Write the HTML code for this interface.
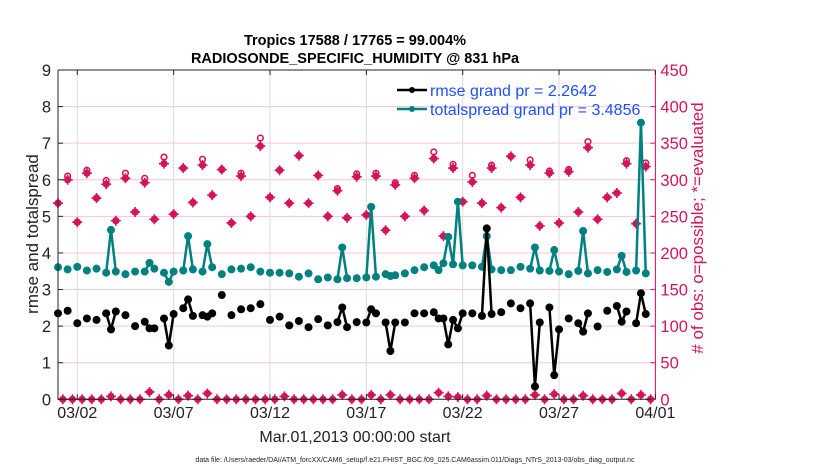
<!DOCTYPE html>
<html><head><meta charset="utf-8">
<style>
body{margin:0;background:#fff;}
svg{display:block;font-family:"Liberation Sans",sans-serif;}
</style></head>
<body>
<svg id="chart" width="830" height="470" viewBox="0 0 830 470">
<rect width="830" height="470" fill="#fff"/>
<g id="grid"></g>
<g id="series"></g>
<g id="axes"></g>
<text x="355" y="45" text-anchor="middle" font-size="14.5" font-weight="bold">Tropics 17588 / 17765 = 99.004%</text>
<text x="355" y="63" text-anchor="middle" font-size="14.5" font-weight="bold">RADIOSONDE_SPECIFIC_HUMIDITY @ 831 hPa</text>
<text transform="translate(38,234) rotate(-90)" text-anchor="middle" font-size="17" fill="#222">rmse and totalspread</text>
<text transform="translate(703,228) rotate(-90)" text-anchor="middle" font-size="17" fill="#d4145a"># of obs: o=possible; *=evaluated</text>
<text x="355" y="442" text-anchor="middle" font-size="16" fill="#222">Mar.01,2013 00:00:00 start</text>
<text x="415" y="462" text-anchor="middle" font-size="7" fill="#222">data file: /Users/raeder/DAI/ATM_forcXX/CAM6_setup/f.e21.FHIST_BGC.f09_025.CAM6assim.011/Diags_NTrS_2013-03/obs_diag_output.nc</text>
<g>
<line x1="397" y1="90" x2="427" y2="90" stroke="#000" stroke-width="2.5"/>
<circle cx="412" cy="90" r="3" fill="#000"/>
<text x="430" y="96" font-size="16" fill="#1f4fff">rmse grand pr = 2.2642</text>
<line x1="397" y1="109" x2="427" y2="109" stroke="#00807f" stroke-width="2.5"/>
<circle cx="412" cy="109" r="3" fill="#00807f"/>
<text x="430" y="115" font-size="16" fill="#1f4fff">totalspread grand pr = 3.4856</text>
</g>
</svg>
<script>
const xTickLabels = ["03/02","03/07","03/12","03/17","03/22","03/27","04/01"];
const xTickDays = [1,6,11,16,21,26,31];
const yLeftTicks = [0,1,2,3,4,5,6,7,8,9];
const yRightTicks = [0,50,100,150,200,250,300,350,400,450];
// bin index j = 6-hour bins from 03/01 00Z
const rmseBins = [0,2,4,6,8,10,11,12,14,16,18,19,20,22,23,24,26,27,28,30,31,32,34,36,38,40,42,44,46,48,50,52,54,56,58,59,60,62,64,65,66,68,69,70,72,74,76,78,79,80,81,82,83,84,86,88,89,90,92,94,96,98,99,100,102,103,104,106,108,109,110,112,114,116,117,118,120,121,122];
const rmseValues = [2.35,2.42,2.08,2.21,2.17,2.35,1.91,2.40,2.30,2.00,2.12,1.94,1.94,2.21,1.47,2.33,2.49,2.73,2.28,2.30,2.26,2.35,2.85,2.30,2.46,2.49,2.60,2.17,2.26,2.02,2.14,1.97,2.19,2.02,2.11,2.51,1.97,2.11,2.10,2.46,2.35,2.10,1.32,2.10,2.10,2.35,2.35,2.38,2.21,2.21,1.50,2.17,1.94,2.35,2.35,2.28,4.67,2.33,2.38,2.62,2.49,2.62,0.35,2.10,2.51,0.66,1.91,2.21,2.08,1.85,2.35,1.99,2.42,2.55,2.12,2.40,2.08,2.90,2.33];
const spreadValues = [3.61,3.55,3.62,3.52,3.57,3.46,4.63,3.49,3.42,3.49,3.49,3.73,3.57,3.46,3.21,3.49,3.52,4.46,3.55,3.49,4.24,3.61,3.42,3.55,3.57,3.61,3.49,3.46,3.46,3.44,3.35,3.44,3.28,3.33,3.28,4.15,3.31,3.31,3.33,5.26,3.35,3.42,3.37,3.39,3.44,3.53,3.61,3.66,3.53,3.72,4.44,3.69,5.40,3.66,3.66,3.62,4.46,3.55,3.53,3.53,3.62,3.57,4.15,3.52,3.51,4.08,3.49,3.42,3.51,4.60,3.44,3.53,3.48,3.55,3.92,3.48,3.52,7.56,3.44];
const evenBins = [0,2,4,6,8,10,12,14,16,18,20,22,24,26,28,30,32,34,36,38,40,42,44,46,48,50,52,54,56,58,60,62,64,66,68,70,72,74,76,78,80,82,84,86,88,90,92,94,96,98,100,102,104,106,108,110,112,114,116,118,120,122];
const evaluatedCounts = [268,300,242,309,275,294,244,302,256,296,246,322,253,316,269,320,279,314,241,305,250,346,276,313,268,333,268,306,250,285,248,304,252,305,231,293,250,302,258,329,223,316,270,297,268,316,262,332,276,320,237,309,241,311,256,344,246,276,282,322,240,318];
const possibleCounts = [268,305,242,313,275,299,244,309,256,302,246,331,253,316,269,328,279,314,241,309,250,357,276,313,268,333,268,306,250,288,248,308,252,309,231,296,250,306,258,338,223,321,270,306,268,320,262,332,276,327,237,312,241,314,256,352,246,276,282,326,240,323];
const oddBins = [1,3,5,7,9,11,13,15,17,19,21,23,25,27,29,31,33,35,37,39,41,43,45,47,49,51,53,55,57,59,61,63,65,67,69,71,73,75,77,79,81,83,85,87,89,91,93,95,97,99,101,103,105,107,109,111,113,115,117,119,121,123];
const oddCounts = [0,0,0,0,0,4,0,0,0,10,0,6,0,5,0,8,0,0,0,0,0,0,0,4,0,0,0,0,0,6,0,0,6,0,6,0,0,0,0,9,4,3,0,0,5,0,0,0,0,6,0,7,0,0,5,0,0,0,8,0,6,0];

const L=58,R=655.4,T=70,B=399.3;
const NS="http://www.w3.org/2000/svg";
const xs = j => L + (j/4)*(R-L)/31;
const xd = d => L + d*(R-L)/31;
const yl = v => B - v*(B-T)/9;
const yr = c => B - c*(B-T)/450;
const MAG="#d4145a";
function mk(tag,attrs,parent){const e=document.createElementNS(NS,tag);for(const k in attrs)e.setAttribute(k,attrs[k]);parent.appendChild(e);return e;}
const grid=document.getElementById('grid'),ser=document.getElementById('series'),ax=document.getElementById('axes');

yRightTicks.forEach(c=>{if(c>0&&c<450){const g=mk('line',{x1:L,x2:R,y1:yr(c),y2:yr(c),stroke:'#f3c6d6','stroke-width':1},grid);

}});
xTickDays.forEach(d=>{const g=mk('line',{x1:xd(d),x2:xd(d),y1:T,y2:B,stroke:'#dcdcdc','stroke-width':1},grid);

});

function drawSeries(bins,vals,color,name){
  const g=mk('g',{},ser);
  
  
  for(let i=1;i<bins.length;i++){if(bins[i]-bins[i-1]===1){const l=mk('line',{x1:xs(bins[i-1]),y1:yl(vals[i-1]),x2:xs(bins[i]),y2:yl(vals[i]),stroke:color,'stroke-width':2.5},g);
    
    }}
  bins.forEach((b,i)=>{const c=mk('circle',{cx:xs(b),cy:yl(vals[i]),r:4,fill:color},g);
    
    });
}
function star(x,y,g){
  const c=mk('circle',{cx:x,cy:y,r:3.6,fill:MAG},g);
  
  
  const p=mk('path',{d:`M${x-5},${y}H${x+5}M${x},${y-5}V${y+5}`,stroke:MAG,'stroke-width':1.6},g);
  
  
}
const og=mk('g',{},ser);


evenBins.forEach((b,i)=>{
  const pc=mk('circle',{cx:xs(b),cy:yr(possibleCounts[i]),r:2.8,fill:'#fff',stroke:MAG,'stroke-width':1.6},og);
  
  
  star(xs(b),yr(evaluatedCounts[i]),og);
});
oddBins.forEach((b,i)=>{star(xs(b),yr(oddCounts[i]),og);});
drawSeries(rmseBins,spreadValues,'#00807f','totalspread');
drawSeries(rmseBins,rmseValues,'#000','rmse');

const fr=mk('path',{d:`M${L},${T}V${B}H${R}M${L},${T}H${R}`,stroke:'#222',fill:'none','stroke-width':1},ax);


const ra=mk('line',{x1:R,x2:R,y1:T,y2:B,stroke:MAG,'stroke-width':1},ax);


yLeftTicks.forEach(v=>{
  const t=mk('line',{x1:L,x2:L+5,y1:yl(v),y2:yl(v),stroke:'#222'},ax);
  
  
  const tx=mk('text',{x:L-7,y:yl(v)+6,'text-anchor':'end','font-size':16.5,fill:'#222'},ax);
  tx.textContent=v;
  
  
});
yRightTicks.forEach(c=>{
  const t=mk('line',{x1:R-5,x2:R,y1:yr(c),y2:yr(c),stroke:MAG},ax);
  
  
  const tx=mk('text',{x:R+5,y:yr(c)+6,'font-size':16.5,fill:MAG},ax);
  tx.textContent=c;
  
  
});
xTickDays.forEach((d,i)=>{
  const t=mk('line',{x1:xd(d),x2:xd(d),y1:B,y2:B-5,stroke:'#222'},ax);
  
  
  const t2=mk('line',{x1:xd(d),x2:xd(d),y1:T,y2:T+5,stroke:'#222'},ax);
  
  
  const tx=mk('text',{x:xd(d),y:418,'text-anchor':'middle','font-size':16,fill:'#222'},ax);
  tx.textContent=xTickLabels[i];
  
  
});
</script>
</body></html>
